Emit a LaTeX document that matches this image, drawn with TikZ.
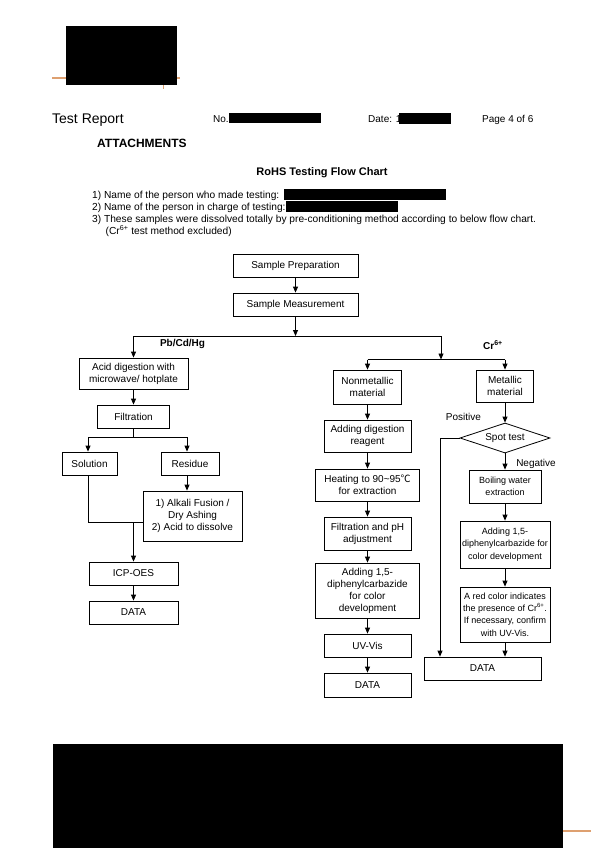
\documentclass[tikz,border=0pt]{standalone}
\usepackage{fontspec}
\setmainfont{Liberation Sans}
\newfontfamily\cjk{Noto Sans CJK SC}
\usetikzlibrary{arrows.meta,shapes.geometric}
\definecolor{hdrorange}{RGB}{222,160,112}
\tikzset{
  box/.style={draw, line width=0.8pt, align=center, inner sep=0pt, font=\fontsize{10}{12}\selectfont},
  sbox/.style={box, font=\fontsize{9}{12.2}\selectfont},
  arr/.style={line width=0.8pt, -{Triangle[length=6pt,width=5pt]}},
  ln/.style={line width=0.8pt},
  txt/.style={inner sep=0pt, anchor=base west, font=\fontsize{10}{12}\selectfont},
  lbl/.style={inner sep=0pt, font=\fontsize{10}{12}\selectfont},
  blbl/.style={inner sep=0pt, font=\fontsize{10}{12}\selectfont\bfseries},
}
\begin{document}
\begin{tikzpicture}[x=1pt,y=-1pt]
\useasboundingbox (0,0) rectangle (600,848);
% header
\draw[hdrorange, line width=1.1pt] (52,78) -- (180,78);
\draw[hdrorange, line width=0.9pt] (163,85) -- (163,89);
\fill (66,26) rectangle (177,85);
\node[txt, font=\fontsize{14}{16}\selectfont] (tr) at (52,124) {Test Report};
\node[txt] (no) at (213,123) {No.};
\fill (229,113) rectangle (321,123);
\node[txt] (date) at (368,123) {Date: 1};
\fill (399,113) rectangle (451,124);
\node[txt] (pg) at (482,123) {Page 4 of 6};
\node[txt, font=\fontsize{12}{14}\selectfont\bfseries] (att) at (97,147.5) {ATTACHMENTS};
\node[inner sep=0pt, anchor=base, font=\fontsize{11}{13}\selectfont\bfseries] (title) at (322,175) {RoHS Testing Flow Chart};
\node[txt, font=\fontsize{10.2}{12}\selectfont] (l1) at (92,198) {1) Name of the person who made testing:};
\fill (284,189) rectangle (446,200);
\node[txt, font=\fontsize{10.2}{12}\selectfont] (l2) at (92,210) {2) Name of the person in charge of testing:};
\fill (286,201) rectangle (398,212);
\node[txt, font=\fontsize{10.2}{12}\selectfont] (l3) at (92,222) {3) These samples were dissolved totally by pre-conditioning method according to below flow chart.};
\node[txt, font=\fontsize{10.2}{12}\selectfont] (l4) at (105.5,234) {(Cr\textsuperscript{6+} test method excluded)};
% footer
\fill (53,744) rectangle (563,848);
\draw[hdrorange, line width=1.1pt] (563,831) -- (591,831);

% top
\node[box, minimum width=125pt, minimum height=23pt] (prep) at (295.5,265.5) {Sample Preparation};
\node[box, minimum width=125pt, minimum height=23pt] (meas) at (295.5,304.5) {Sample Measurement};
% left column
\node[box, minimum width=109pt, minimum height=31pt] (acid) at (133.5,373.5) {Acid digestion with\\microwave/ hotplate};
\node[box, minimum width=72pt, minimum height=23pt] (filt) at (133.5,416.5) {Filtration};
\node[box, minimum width=55pt, minimum height=23pt] (sol) at (89.5,463.5) {Solution};
\node[box, minimum width=58pt, minimum height=23pt] (res) at (190,463.5) {Residue};
\node[box, minimum width=99pt, minimum height=50pt] (alk) at (192.5,516) {1) Alkali Fusion /\\Dry Ashing\\2) Acid to dissolve};
\node[box, minimum width=89pt, minimum height=23pt] (icp) at (133.5,573.5) {ICP-OES};
\node[box, minimum width=89pt, minimum height=23pt] (datL) at (133.5,612.5) {DATA};
% middle column
\node[box, minimum width=68pt, minimum height=34pt] (nonm) at (367.5,387) {Nonmetallic\\material};
\node[box, minimum width=87pt, minimum height=32pt] (dig) at (367.5,436) {Adding digestion\\reagent};
\node[box, minimum width=104pt, minimum height=32pt] (heat) at (367.5,485) {Heating to 90\textasciitilde 95{\cjk ℃}\\for extraction};
\node[box, minimum width=87pt, minimum height=33pt] (fph) at (367.5,533.5) {Filtration and pH\\adjustment};
\node[box, minimum width=104pt, minimum height=55pt] (dph) at (367.5,590.5) {Adding 1,5-\\diphenylcarbazide\\for color\\development};
\node[box, minimum width=87pt, minimum height=23pt] (uv) at (367.5,645.5) {UV-Vis};
\node[box, minimum width=87pt, minimum height=24pt] (datM) at (367.5,685) {DATA};
% right column
\node[box, minimum width=57pt, minimum height=32pt] (met) at (505,386) {Metallic\\material};
\node[box, diamond, aspect=3, minimum width=90pt, minimum height=30pt] (spot) at (505,438) {Spot test};
\node[sbox, minimum width=72pt, minimum height=33pt] (boil) at (505,486.5) {Boiling water\\extraction};
\node[sbox, minimum width=90pt, minimum height=47pt] (dph2) at (505,544.5) {Adding 1,5-\\diphenylcarbazide for\\color development};
\node[sbox, minimum width=90pt, minimum height=55pt] (red) at (505,614.5) {A red color indicates\\the presence of Cr\textsuperscript{6+}.\\If necessary, confirm\\with UV-Vis.};
\node[box, minimum width=117pt, minimum height=23pt] (datR) at (482.5,668.5) {DATA};
% labels
\node[blbl] (pb) at (182.5,344) {Pb/Cd/Hg};
\node[blbl] (cr6) at (493,345) {Cr\textsuperscript{6+}};
\node[lbl] (pos) at (463.5,417) {Positive};
\node[lbl] (neg) at (536,463.5) {Negative};

% connectors top
\coordinate (top) at (295.5,336);
\coordinate (tL) at (133.5,336);
\coordinate (tR) at (441,336);
\coordinate (cr) at (441,359.5);
\coordinate (cL) at (367.5,359.5);
\coordinate (cR) at (505,359.5);
\draw[arr] (prep) -- (meas);
\draw[arr] (meas) -- (top);
\draw[ln] (tL) -- (tR);
\draw[arr] (tL) -- (acid);
\draw[arr] (tR) -- (cr);
\draw[ln] (cL) -- (cR);
\draw[arr] (cL) -- (nonm);
\draw[arr] (cR) -- (met);
% left connectors
\coordinate (fj) at (133.5,437);
\coordinate (bL) at (88,437);
\coordinate (bR) at (187,437);
\coordinate (jL) at (88,522);
\coordinate (jM) at (133.5,522);
\draw[arr] (acid) -- (filt);
\draw[ln] (filt) -- (fj);
\draw[ln] (bL) -- (bR);
\draw[arr] (bL) -- (bL |- sol.north);
\draw[arr] (bR) -- (bR |- res.north);
\draw[arr] (bR |- res.south) -- (bR |- alk.north);
\draw[ln] (bL |- sol.south) -- (jL) -- (alk.west |- jL);
\draw[arr] (jM) -- (icp);
\draw[arr] (icp) -- (datL);
% middle connectors
\draw[arr] (nonm) -- (dig);
\draw[arr] (dig) -- (heat);
\draw[arr] (heat) -- (fph);
\draw[arr] (fph) -- (dph);
\draw[arr] (dph) -- (uv);
\draw[arr] (uv) -- (datM);
% right connectors
\coordinate (pL) at (440,438);
\draw[arr] (met) -- (spot);
\draw[arr] (spot) -- (boil);
\draw[arr] (boil) -- (dph2);
\draw[arr] (dph2) -- (red);
\draw[arr] (red.south) -- (red.south |- datR.north);
\draw[ln] (spot.west) -- (pL);
\draw[arr] (pL) -- (pL |- datR.north);
\end{tikzpicture}
\end{document}
